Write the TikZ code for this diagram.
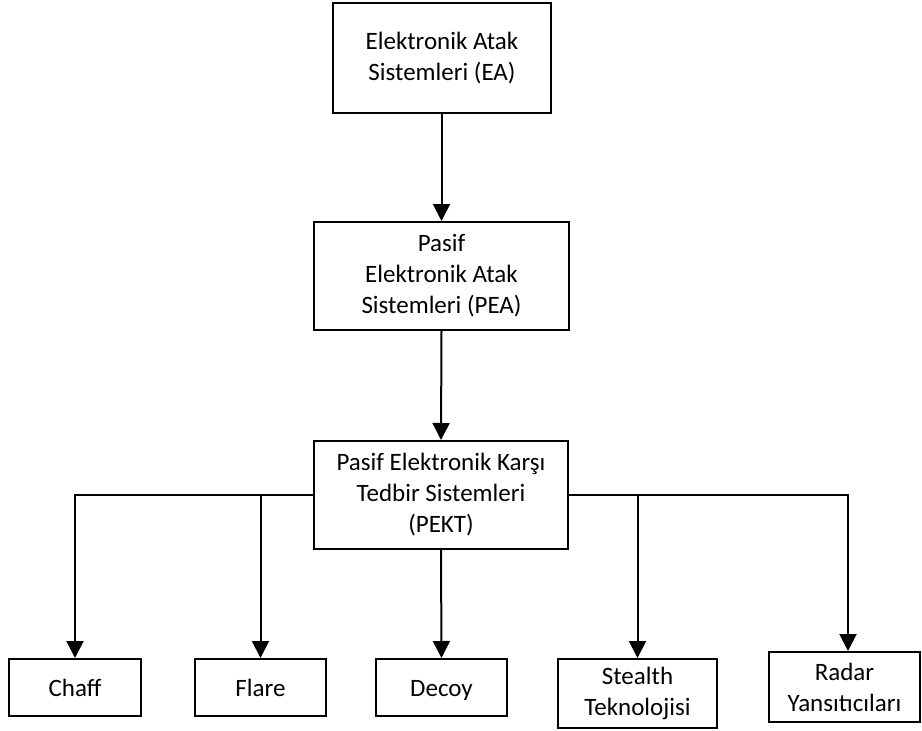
\documentclass[tikz,border=0pt]{standalone}
\usepackage{fontspec}
\setmainfont{Carlito}
\usetikzlibrary{arrows.meta}
\begin{document}
\begin{tikzpicture}[x=1pt,y=-1pt,
  box/.style={draw, line width=2pt, inner sep=0pt, align=center,
    font=\fontsize{25}{31}\selectfont},
  one/.style={text height=22pt, text depth=5pt},
  arr/.style={line width=2pt, -{Triangle[length=17pt,width=17pt]}}]
\useasboundingbox (0,0) rectangle (922,731);
\node[box, minimum width=218pt, minimum height=110pt] (ea) at (442,58) {Elektronik Atak\\Sistemleri (EA)};
\node[box, minimum width=255pt, minimum height=108pt] (pea) at (441.5,276) {Pasif\\Elektronik Atak\\Sistemleri (PEA)};
\node[box, minimum width=254pt, minimum height=108pt] (pekt) at (441,495) {Pasif Elektronik Karşı\\Tedbir Sistemleri\\(PEKT)};
\node[box, one, minimum width=132pt, minimum height=57pt] (chaff) at (75,687.5) {Chaff};
\node[box, one, minimum width=131pt, minimum height=57pt] (flare) at (260.5,687.5) {Flare};
\node[box, one, minimum width=131pt, minimum height=57pt] (decoy) at (441.5,687.5) {Decoy};
\node[box, minimum width=159pt, minimum height=69pt] (stealth) at (637.5,693.5) {Stealth\\Teknolojisi};
\node[box, minimum width=151pt, minimum height=70pt] (radar) at (844.5,687) {Radar\\Yansıtıcıları};
\coordinate (rtop) at ([xshift=3.5pt]radar.north);
\draw[arr] (ea.south -| pea.north) -- (pea.north);
\draw[arr] (pea.south) -- (pekt.north);
\draw[arr] (pekt.south) -- (decoy.north);
\draw[arr] (pekt.west) -| (chaff.north);
\draw[arr] (flare.north |- pekt.west) -- (flare.north);
\draw[arr] (pekt.east) -| (rtop);
\draw[arr] (stealth.north |- pekt.east) -- (stealth.north);
\end{tikzpicture}
\end{document}
